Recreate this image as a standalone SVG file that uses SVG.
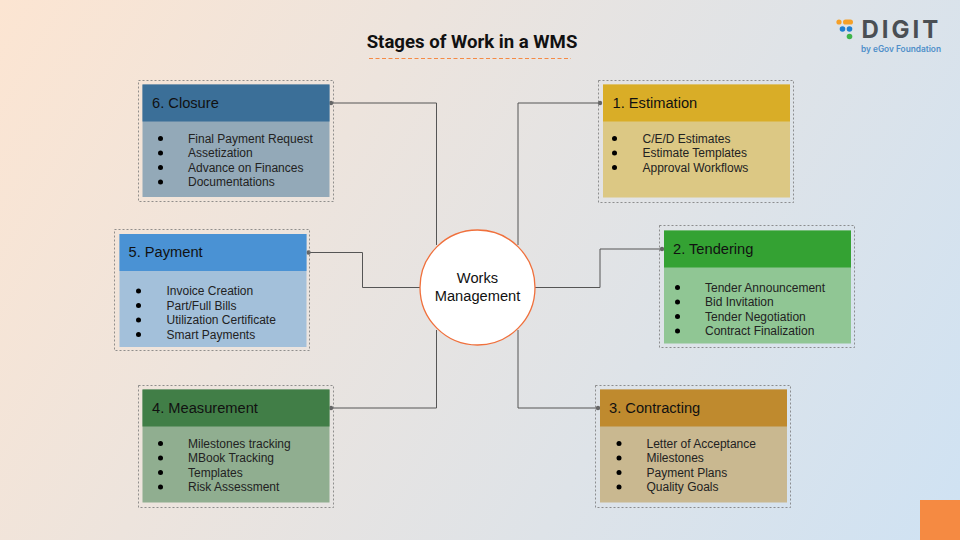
<svg xmlns="http://www.w3.org/2000/svg" width="960" height="540" viewBox="0 0 960 540">
<defs>
<linearGradient id="bg" gradientUnits="userSpaceOnUse" x1="0" y1="0" x2="960" y2="540"><stop offset="0" stop-color="#fce5d2"/><stop offset="1" stop-color="#cfe2f3"/></linearGradient>
</defs>
<style>
text{font-family:"Liberation Sans",Arial,sans-serif;fill:#111}
.outer{fill:none;stroke:#777;stroke-width:.8;stroke-dasharray:2 2}
.h{font-size:14.67px}
.b{font-size:12px;fill:#222}
.dot{fill:#000}
.conn{fill:none;stroke:#555;stroke-width:1}
.end{fill:#666}
</style>
<rect width="960" height="540" fill="url(#bg)"/>
<g id="title">
<text x="472" y="48" text-anchor="middle" style="font-family:Roboto,sans-serif;font-weight:700;font-size:18.600px">Stages of Work in a WMS</text>
<line x1="369" y1="58.500" x2="571" y2="58.500" stroke="#f58a45" stroke-width="1" stroke-dasharray="4 2.500"/>
</g>
<g id="logo">
<circle cx="839" cy="22" r="2.600" fill="#f5a028"/><rect x="843" y="19.400" width="10" height="5.200" rx="2.600" fill="#f5a028"/>
<circle cx="842.500" cy="29" r="2.800" fill="#1f7fd0"/><circle cx="849.500" cy="29" r="2.800" fill="#1f7fd0"/>
<circle cx="849.500" cy="36.500" r="2.800" fill="#3fb54a"/>
<text x="861.500" y="37.500" style="font-family:Inter,'Liberation Sans',sans-serif;font-weight:700;font-size:24px;letter-spacing:3px;fill:#4a4f54">DIGIT</text>
<text x="861" y="51.800" style="font-family:Inter,'Liberation Sans',sans-serif;font-weight:600;font-size:8.300px;fill:#4f8fc9">by eGov Foundation</text>
</g>
<rect id="corner" x="920" y="500" width="40" height="40" fill="#f58a42"/>
<g id="connectors">
<path class="conn" d="M331 103H436.500V245"/><path class="conn" d="M308 252.500H362.500V287.500H420"/><path class="conn" d="M331 408H436.500V330"/>
<path class="conn" d="M600 103H518V245"/><path class="conn" d="M662 249H600V287.500H535"/><path class="conn" d="M598 408H518V330"/>
<circle class="end" cx="331" cy="103" r="2.200"/><circle class="end" cx="308.500" cy="252.500" r="2.200"/><circle class="end" cx="331" cy="408" r="2.200"/>
<circle class="end" cx="600" cy="103" r="2.200"/><circle class="end" cx="662" cy="249" r="2.200"/><circle class="end" cx="598" cy="408" r="2.200"/>
</g>
<g id="center">
<circle cx="477.500" cy="287.500" r="57.500" fill="#fff" stroke="#f0703c" stroke-width="1.300"/>
<text class="h" x="477.500" y="283" text-anchor="middle">Works</text>
<text class="h" x="477.500" y="300.500" text-anchor="middle">Management</text>
</g>
<g id="n6">
<rect class="outer" x="138.500" y="80.500" width="195" height="121"/>
<rect x="142.500" y="84.500" width="187" height="112.500" fill="#93a9b8"/><rect x="142.500" y="84.500" width="187" height="37" fill="#3b6f98"/>
<text class="h" x="152" y="107.500">6. Closure</text>
<circle class="dot" cx="160.500" cy="138.500" r="2.500"/><circle class="dot" cx="160.500" cy="153" r="2.500"/><circle class="dot" cx="160.500" cy="167.500" r="2.500"/><circle class="dot" cx="160.500" cy="182" r="2.500"/>
<text class="b" x="188" y="142.500">Final Payment Request</text><text class="b" x="188" y="157">Assetization</text><text class="b" x="188" y="171.500">Advance on Finances</text><text class="b" x="188" y="186">Documentations</text>
</g>
<g id="n5">
<rect class="outer" x="114.500" y="229.500" width="195" height="121"/>
<rect x="119.500" y="234" width="187" height="113" fill="#a3c0da"/><rect x="119.500" y="234" width="187" height="37" fill="#4a92d4"/>
<text class="h" x="128.500" y="257">5. Payment</text>
<circle class="dot" cx="138.500" cy="291" r="2.500"/><circle class="dot" cx="138.500" cy="305.500" r="2.500"/><circle class="dot" cx="138.500" cy="320" r="2.500"/><circle class="dot" cx="138.500" cy="334.500" r="2.500"/>
<text class="b" x="166.500" y="295">Invoice Creation</text><text class="b" x="166.500" y="309.500">Part/Full Bills</text><text class="b" x="166.500" y="324">Utilization Certificate</text><text class="b" x="166.500" y="338.500">Smart Payments</text>
</g>
<g id="n4">
<rect class="outer" x="138.500" y="385.500" width="195" height="122"/>
<rect x="142.500" y="389.500" width="187" height="113" fill="#90ae90"/><rect x="142.500" y="389.500" width="187" height="37" fill="#417e47"/>
<text class="h" x="152" y="412.500">4. Measurement</text>
<circle class="dot" cx="160.500" cy="443.500" r="2.500"/><circle class="dot" cx="160.500" cy="458" r="2.500"/><circle class="dot" cx="160.500" cy="472.500" r="2.500"/><circle class="dot" cx="160.500" cy="487" r="2.500"/>
<text class="b" x="188" y="447.500">Milestones tracking</text><text class="b" x="188" y="462">MBook Tracking</text><text class="b" x="188" y="476.500">Templates</text><text class="b" x="188" y="491">Risk Assessment</text>
</g>
<g id="n1">
<rect class="outer" x="598.500" y="80.500" width="195" height="122"/>
<rect x="603" y="84.500" width="187" height="113" fill="#dcc884"/><rect x="603" y="84.500" width="187" height="37" fill="#d9ad27"/>
<text class="h" x="612.500" y="107.500">1. Estimation</text>
<circle class="dot" cx="614.500" cy="138.500" r="2.500"/><circle class="dot" cx="614.500" cy="153" r="2.500"/><circle class="dot" cx="614.500" cy="167.500" r="2.500"/>
<text class="b" x="642.500" y="142.500">C/E/D Estimates</text><text class="b" x="642.500" y="157">Estimate Templates</text><text class="b" x="642.500" y="171.500">Approval Workflows</text>
</g>
<g id="n2">
<rect class="outer" x="659.500" y="225.500" width="195" height="122"/>
<rect x="664" y="230.500" width="187" height="113" fill="#90c694"/><rect x="664" y="230.500" width="187" height="37" fill="#34a233"/>
<text class="h" x="673" y="253.500">2. Tendering</text>
<circle class="dot" cx="677.500" cy="287.500" r="2.500"/><circle class="dot" cx="677.500" cy="302" r="2.500"/><circle class="dot" cx="677.500" cy="316.500" r="2.500"/><circle class="dot" cx="677.500" cy="331" r="2.500"/>
<text class="b" x="705" y="291.500">Tender Announcement</text><text class="b" x="705" y="306">Bid Invitation</text><text class="b" x="705" y="320.500">Tender Negotiation</text><text class="b" x="705" y="335">Contract Finalization</text>
</g>
<g id="n3">
<rect class="outer" x="595.500" y="385.500" width="195" height="122"/>
<rect x="600" y="389.500" width="187" height="113" fill="#c9b890"/><rect x="600" y="389.500" width="187" height="37" fill="#bf8a2e"/>
<text class="h" x="609" y="412.500">3. Contracting</text>
<circle class="dot" cx="619" cy="443.500" r="2.500"/><circle class="dot" cx="619" cy="458" r="2.500"/><circle class="dot" cx="619" cy="472.500" r="2.500"/><circle class="dot" cx="619" cy="487" r="2.500"/>
<text class="b" x="646.500" y="447.500">Letter of Acceptance</text><text class="b" x="646.500" y="462">Milestones</text><text class="b" x="646.500" y="476.500">Payment Plans</text><text class="b" x="646.500" y="491">Quality Goals</text>
</g>
</svg>
